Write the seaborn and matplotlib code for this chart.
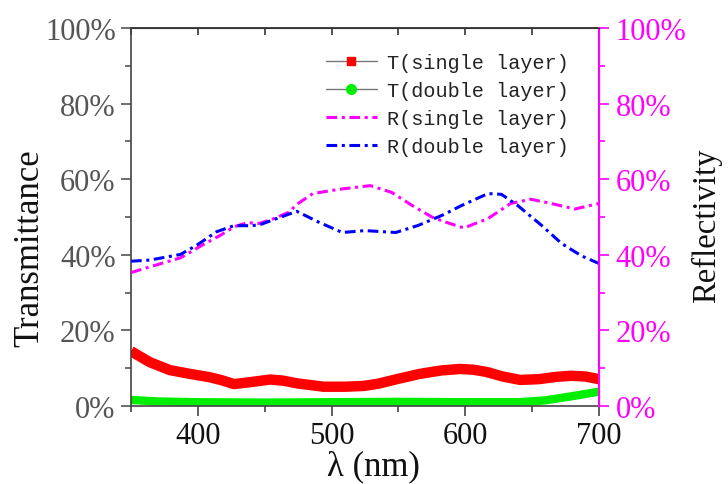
import matplotlib
matplotlib.use("Agg")
import matplotlib.pyplot as plt
import seaborn as sns
from matplotlib.lines import Line2D
from matplotlib.ticker import MultipleLocator, PercentFormatter

sns.set_style("ticks")
plt.rcParams['font.family'] = ['Liberation Serif', 'DejaVu Serif']

# T single layer (%)
t1_x = [350, 364, 379, 394, 409, 418, 427, 439, 454, 464, 474, 494, 510, 524, 535, 550, 566, 582, 596, 606, 616, 628, 641, 655, 668, 679, 690, 700]
t1_y = [14.5, 11.6, 9.5, 8.5, 7.6, 6.8, 5.8, 6.3, 7.0, 6.7, 6.0, 5.1, 5.1, 5.3, 5.9, 7.2, 8.5, 9.4, 9.8, 9.6, 9.0, 7.8, 6.9, 7.1, 7.7, 8.0, 7.8, 7.1]
# T double layer (%)
t2_x = [350, 370, 400, 450, 500, 550, 600, 640, 660, 680, 700]
t2_y = [1.6, 1.2, 1.0, 0.9, 1.0, 1.1, 1.0, 1.0, 1.5, 2.6, 3.8]
# R single layer (%)
r1_x = [350, 364, 387, 404, 417, 427, 437, 446, 457, 469, 473, 486, 505, 529, 545, 560, 575, 583, 599, 617, 634, 649, 664, 682, 700]
r1_y = [35.3, 36.8, 39.2, 42.7, 45.2, 47.4, 48.5, 48.3, 49.6, 51.4, 53.1, 56.2, 57.3, 58.3, 56.5, 53.1, 50.0, 48.9, 47.1, 49.6, 53.6, 54.7, 53.6, 52.1, 53.6]
# R double layer (%)
r2_x = [350, 364, 387, 399, 414, 427, 439, 446, 459, 474, 490, 508, 525, 548, 565, 583, 597, 617, 627, 639, 657, 672, 687, 700]
r2_y = [38.3, 38.6, 40.1, 42.5, 46.1, 47.7, 47.7, 47.9, 49.6, 51.5, 48.7, 45.9, 46.4, 45.9, 47.8, 50.5, 53.0, 56.2, 56.0, 53.1, 47.8, 43.0, 39.7, 37.7]

labels = ["T(single layer)", "T(double layer)", "R(single layer)", "R(double layer)"]

dashdot = (0, (3.5, 1.5, 1, 1.5))

fig = plt.figure(figsize=(7.28, 4.85), dpi=100)
ax = fig.add_axes([131/728, 1-407/485, (599-131)/728, (407-29)/485])
ax2 = ax.twinx()

sns.lineplot(x=t1_x, y=t1_y, ax=ax, color="#ff0000", linewidth=7.5, solid_capstyle="butt")
sns.lineplot(x=t2_x, y=t2_y, ax=ax, color="#00ee00", linewidth=6, solid_capstyle="butt")
sns.lineplot(x=r1_x, y=r1_y, ax=ax2, color="#ff00ff", linewidth=2.2, linestyle=dashdot)
sns.lineplot(x=r2_x, y=r2_y, ax=ax2, color="#0000ff", linewidth=2.2, linestyle=dashdot)

for a in (ax, ax2):
    a.set_xlim(350, 700)
    a.set_ylim(0, 100)
    a.yaxis.set_major_locator(MultipleLocator(20))
    a.yaxis.set_minor_locator(MultipleLocator(10))
    a.yaxis.set_major_formatter(PercentFormatter(decimals=0))

ax.xaxis.set_major_locator(MultipleLocator(100))
ax.xaxis.set_minor_locator(MultipleLocator(50))
ax.tick_params(axis='x', which='major', direction='out', length=7, width=1.2, labelsize=22, colors='#444444', labelcolor='#111111', pad=4)
ax.tick_params(axis='x', which='minor', direction='out', length=4, width=1.2, colors='#444444')
ax.tick_params(axis='y', which='major', direction='out', length=7, width=1.2, labelsize=22, colors='#555555', pad=4)
ax.tick_params(axis='y', which='minor', direction='out', length=4, width=1.2, colors='#555555')
ax2.tick_params(axis='y', which='major', direction='out', length=7, width=1.2, labelsize=22, colors='#ff00ff', pad=5)
ax2.tick_params(axis='y', which='minor', direction='out', length=4, width=1.2, colors='#ff00ff')

sec = ax.secondary_xaxis('top')
sec.xaxis.set_major_locator(MultipleLocator(50))
sec.tick_params(axis='x', direction='in', length=5, width=1.2, colors='#333333', labeltop=False)
sec.spines['top'].set_color('#333333')
sec.spines['top'].set_linewidth(1.2)

for s in ['left', 'bottom', 'top']:
    ax.spines[s].set_color('#444444')
    ax.spines[s].set_linewidth(1.2)
ax2.spines['right'].set_color('#ff00ff')
ax2.spines['right'].set_linewidth(1.5)
ax2.spines['left'].set_visible(False)
ax2.spines['top'].set_color('#333333')
ax2.spines['bottom'].set_visible(False)

ax.set_xlabel("λ (nm)", fontsize=25, color='#111111')
ax.set_ylabel("Transmittance", fontsize=25, color='#111111')
ax2.set_ylabel("Reflectivity", fontsize=23.5, color='#111111')
ax.xaxis.set_label_coords((373 - 131) / 468, -0.115)
ax.yaxis.set_label_coords(-0.18, (407 - 248) / 378)
ax2.yaxis.set_label_coords(1.197, (407 - 226) / 378)

handles = [
    Line2D([], [], color='#777777', lw=1, marker='s', markersize=6, markerfacecolor='#ff0000', markeredgecolor='#ff0000'),
    Line2D([], [], color='#777777', lw=1, marker='o', markersize=7, markerfacecolor='#00ee00', markeredgecolor='#00ee00'),
    Line2D([], [], color='#ff00ff', lw=2.2, linestyle=dashdot),
    Line2D([], [], color='#0000ff', lw=2.2, linestyle=dashdot),
]
leg = ax.legend(handles, labels, loc='upper left', bbox_to_anchor=(0.40, 0.955), frameon=False,
                prop={'family': ['Liberation Mono'], 'size': 14.5}, handlelength=2.5,
                labelspacing=0.45, handletextpad=0.5, borderaxespad=0)
for t in leg.get_texts():
    t.set_color('#222222')

fig.savefig("out.png", dpi=100, facecolor='white')
